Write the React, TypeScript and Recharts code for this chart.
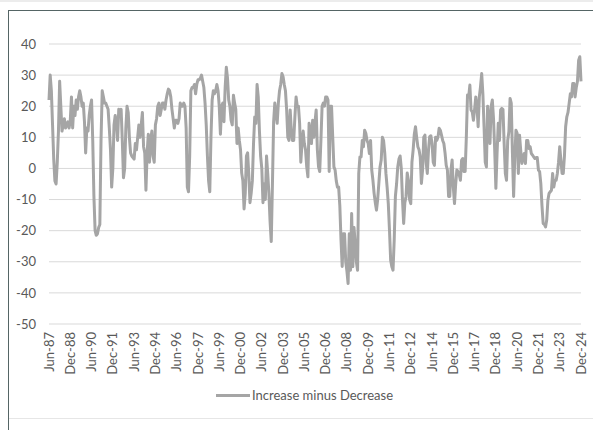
import { LineChart, Line, XAxis, YAxis, CartesianGrid } from "recharts";

// monthly readings, Jun-87 .. Dec-24
const values1987to1991 = [
  22, 30, 25, 14, 3, -4, -5, 2, 12, 28, 20, 12, 14, 16, 13, 14, 15, 13, 15.5, 23,
  13, 20, 17, 22, 19, 23, 25, 23, 20, 21, 15, 5, 13, 12, 17, 20, 22, 9, -9, -20,
  -21.5, -21, -19, -18, 9, 25, 23, 21, 21, 20, 19, 13, 6, -6, 0,
];
const values1992to1997 = [
  14, 17, 15, 9, 19, 18, 19, 9, -3, 0, 13, 20, 18, 10, 5, 4, 3.5, 3, 8, 6,
  10, 14, 10, 14, 18, 7, 5, -7, 5, 11, 2, 9, 12, 4, 2, 14, 16, 20, 21, 17,
  19, 21, 21, 19, 22, 24, 25.5, 25, 23, 19, 16, 13, 15.5, 15.5, 14.5, 16, 21, 20, 20, 21,
  20, 13, -6, -7.5, 4, 25, 26, 26, 27, 24, 27, 28.5,
];
const values1998to2003 = [
  28.5, 29, 30, 28, 26, 21, 14, 4, -4, -7.5, 10, 22, 25, 24, 25, 27, 25, 20, 11, 20,
  21, 15, 26, 32.5, 29, 22, 20, 15.5, 14, 23.5, 21, 19, 8, 13, 9, 6, -1.5, -4, -13, -8,
  4, 5, -2, -11, -8, -4, 8, 16.5, 14.5, 27, 23, 12, 4, 0, -11, -5, -10, 4, -1.5, -8,
  -17, -23.5, -5, 15, 21, 18, 14.5, 21, 25, 27, 30.5, 29.5,
];
const values2004to2009 = [
  27, 25, 19, 10, 9, 18.8, 12, 9, 9, 16.6, 23, 20, 20, 14.5, 2, 8, 12, 8, 6, 0.5,
  -2.7, 14.5, 12, 8, 15.5, 10, 15, 18.8, 6, 0.5, -1, 9, 20, 21, 20, 23, 23, 22, -1, 20,
  20, 10, 0.5, -0.5, -4, -6, -6, -12, -23, -31.5, -21, -21, -30, -33, -37, -21, -32.7, -14.5, -31.6, -19,
  -24, -30, -32.7, -1.6, 3.7, 3.7, 9, 7, 12.3, 11.3, 9, 8,
];
const values2010to2015 = [
  4.8, 9, -0.5, -3.8, -8, -11, -13.4, -10, -4.8, 0.5, 2.7, 10, 9, 5, -1.6, -6, -11.3, -19.8, -29.5, -31.6,
  -32.7, -23, -9, -5, 0.5, 3, 4, 0, -10, -17.7, -11, -9, -1.5, -3.8, -10, -11.3, 2, 5.9, 11, 13.4,
  10, 7, 6, 3.7, -4.8, -0.5, 10, 10.7, 2, -1.6, 5.9, 10.2, 10.5, 8, 2, 1, 10, 9, 10, 12.9,
  12.3, 10.7, 9, 8, 5, 1, -0.5, -9, -9, -0.5, 2.7, -6,
];
const values2016to2021 = [
  -11.3, -5, -0.5, -1, -2, -3.8, 2.7, 3.2, -1, -1, 10, 23.6, 23, 26.8, 18.8, 18.2, 15.5, 19, 23, 20,
  13.4, 23, 26.3, 30.5, 24, 13.4, 2, 0.5, 20, 16, 8, 20, 22, 16, 6, -6.4, 4.8, 14.5, 9, 18.8,
  19.3, 19, 8, -1.6, -3.8, 9, 11.8, 22.5, 21, 5, -9, 3.7, 12.3, 11.3, -1.6, 10.7, 5.9, 1.6, 3.5, 4.8,
  1.6, 9, 9, 6.4, 7, 4.8, 4.3, 3.7, 3.2, 3.5, 3.5, -0.5,
];
const values2022to2024 = [
  -1, -4.8, -12, -17.7, -18, -18.8, -16.6, -10.2, -8, -7.5, -7, -1.6, -6, -3.8, -3.8, -1.6, 2, 7, 2.7, -1.6,
  -1.6, 4, 13.4, 16.6, 18, 21, 24, 23, 27.3, 27.3, 23, 26, 28, 34.8, 35.9, 28,
];

const allValues = [
  ...values1987to1991,
  ...values1992to1997,
  ...values1998to2003,
  ...values2004to2009,
  ...values2010to2015,
  ...values2016to2021,
  ...values2022to2024,
];

const monthNames = ["Jan", "Feb", "Mar", "Apr", "May", "Jun", "Jul", "Aug", "Sep", "Oct", "Nov", "Dec"];
const startYear = 1987;
const startMonth = 5; // June

const tickLabels = [
  "Jun-87", "Dec-88", "Jun-90", "Dec-91", "Jun-93", "Dec-94", "Jun-96", "Dec-97", "Jun-99",
  "Dec-00", "Jun-02", "Dec-03", "Jun-05", "Dec-06", "Jun-08", "Dec-09", "Jun-11", "Dec-12",
  "Jun-14", "Dec-15", "Jun-17", "Dec-18", "Jun-20", "Dec-21", "Jun-23", "Dec-24",
];
const yTicks = [-50, -40, -30, -20, -10, 0, 10, 20, 30, 40];

const data = allValues.map((v, i) => {
  const m = startMonth + i;
  const yr = (startYear + Math.floor(m / 12)) % 100;
  const label = monthNames[m % 12] + "-" + String(yr).padStart(2, "0");
  return { month: label, value: v };
});

const FONT = "Lato, 'Liberation Sans', sans-serif";
const TEXT = "#595959";

function XTick(props: any) {
  const { x, y, payload } = props;
  return (
    <text
      x={x}
      y={y}
      transform={`rotate(-90, ${x}, ${y})`}
      textAnchor="end"
      dy="0.35em"
      fontSize={13}
      fontFamily={FONT}
      fill={TEXT}
    >
      {payload.value}
    </text>
  );
}

export default function App() {
  return (
    <div
      style={{
        position: "absolute",
        left: 0,
        top: 0,
        width: 593,
        height: 430,
        background: "#fff",
        overflow: "hidden",
      }}
    >
      {/* frame */}
      <div style={{ position: "absolute", left: 0, top: 0, width: 593, height: 2, background: "#ececec" }} />
      <div style={{ position: "absolute", left: 8, top: 10, width: 600, height: 1, background: "#556565" }} />
      <div style={{ position: "absolute", left: 8, top: 10, width: 1, height: 430, background: "#556565" }} />
      <div style={{ position: "absolute", left: 9, top: 418, width: 600, height: 1, background: "#e6e6e6" }} />

      <div style={{ position: "absolute", left: 0, top: 0 }}>
        <LineChart
          width={593}
          height={430}
          data={data}
          margin={{ top: 44, right: 12, bottom: 46, left: 0 }}
        >
          <CartesianGrid vertical={false} stroke="#d9d9d9" strokeWidth={1} />
          <XAxis
            dataKey="month"
            ticks={tickLabels}
            interval={0}
            height={60}
            axisLine={false}
            tickLine={false}
            tick={<XTick />}
          />
          <YAxis
            domain={[-50, 40]}
            ticks={yTicks}
            width={49}
            axisLine={false}
            tickLine={false}
            tickMargin={7}
            tick={{ fontSize: 13, fontFamily: FONT, fill: TEXT }}
          />
          <Line
            type="linear"
            dataKey="value"
            stroke="#a5a5a5"
            strokeWidth={3}
            strokeLinejoin="round"
            dot={false}
            isAnimationActive={false}
          />
        </LineChart>
      </div>

      {/* legend */}
      <div
        style={{
          position: "absolute",
          left: 216,
          top: 387,
          display: "flex",
          alignItems: "center",
          fontFamily: FONT,
          fontSize: 13,
          color: TEXT,
        }}
      >
        <div style={{ width: 34, height: 3, background: "#a5a5a5", marginRight: 2 }} />
        <span>Increase minus Decrease</span>
      </div>
    </div>
  );
}
